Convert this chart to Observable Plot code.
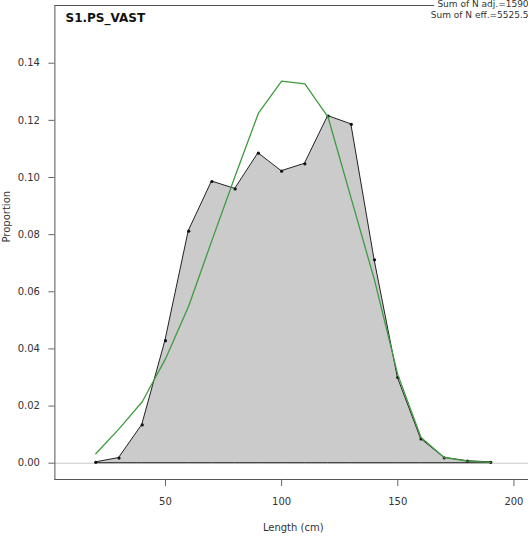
<!DOCTYPE html>
<html><head><meta charset="utf-8">
<script src="https://cdn.jsdelivr.net/npm/d3@7"></script>
<script src="https://cdn.jsdelivr.net/npm/@observablehq/plot@0.6"></script>
<style>
html,body{margin:0;padding:0;background:#fff;overflow:hidden;}
</style>
</head><body><div id="chart"></div>
<script>
const lengths  = [20,30,40,50,60,70,80,90,100,110,120,130,140,150,160,170,180,190];
const observed = [0.0003,0.0018,0.0134,0.0429,0.0812,0.0986,0.0960,0.1085,0.1022,0.1048,0.1215,0.1186,0.0712,0.0300,0.0085,0.0019,0.0007,0.0003];
const expected = [0.0033,0.0120,0.0215,0.0365,0.0550,0.0780,0.1005,0.1225,0.1337,0.1328,0.1211,0.0925,0.0640,0.0310,0.0090,0.0020,0.0007,0.0003];
const xTicks = [50,100,150,200];
const yTicks = [0,0.02,0.04,0.06,0.08,0.10,0.12,0.14];
const titleText = "S1.PS_VAST";
const noteLine1 = "Sum of N adj.=1590";
const noteLine2 = "Sum of N eff.=5525.5";
const xLabel = "Length (cm)";
const yLabel = "Proportion";

const obsData = lengths.map((x,i) => ({x, y: observed[i]}));
const expData = lengths.map((x,i) => ({x, y: expected[i]}));

const chart = Plot.plot({
  width: 528, height: 538,
  marginLeft: 54.4, marginRight: -3.1, marginTop: 5, marginBottom: 59,
  style: {fontFamily: "DejaVu Sans", fontSize: "10px", color: "#333", background: "#fff", overflow: "hidden"},
  x: {domain: [2.4, 207.6]},
  y: {domain: [-0.0057, 0.1602]},
  marks: [
    Plot.ruleY([0], {stroke: "#c8c8c8", strokeWidth: 1}),
    Plot.areaY(obsData, {x: "x", y: "y", fill: "#cbcbcb", stroke: "#222", strokeWidth: 1}),
    Plot.dot(obsData, {x: "x", y: "y", r: 1.6, fill: "#111", stroke: null}),
    Plot.line(expData, {x: "x", y: "y", stroke: "#3f9b3f", strokeWidth: 1.3}),
    Plot.frame({anchor: "left", stroke: "#555"}),
    Plot.frame({anchor: "top", stroke: "#555"}),
    Plot.frame({anchor: "bottom", stroke: "#555"}),
    Plot.axisX({ticks: xTicks, tickSize: 7, tickPadding: 11, fontSize: 10, label: null, stroke: "#666"}),
    Plot.axisY({ticks: yTicks, tickFormat: d3.format(".2f"), tickSize: 6, tickPadding: 9, fontSize: 10, label: null, stroke: "#666"}),
    Plot.text([titleText], {frameAnchor: "top-left", dx: 10.6, dy: 7.5, textAnchor: "start", lineAnchor: "top", fontWeight: "bold", fontSize: 12, fill: "#111"}),
    Plot.text([noteLine1], {frameAnchor: "top-right", dx: -3, dy: -4.5, textAnchor: "end", lineAnchor: "top", fontSize: 9, fill: "#333", stroke: "white", strokeWidth: 8}),
    Plot.text([noteLine2], {frameAnchor: "top-right", dx: -3, dy: 6.5, textAnchor: "end", lineAnchor: "top", fontSize: 9, fill: "#333", stroke: "white", strokeWidth: 3}),
    Plot.text([xLabel], {frameAnchor: "bottom", dy: 51, fontSize: 10, fill: "#333"}),
    Plot.text([yLabel], {frameAnchor: "left", dx: -47.7, rotate: -90, fontSize: 10, fill: "#333"})
  ]
});
document.getElementById("chart").appendChild(chart);
</script>
</body></html>
